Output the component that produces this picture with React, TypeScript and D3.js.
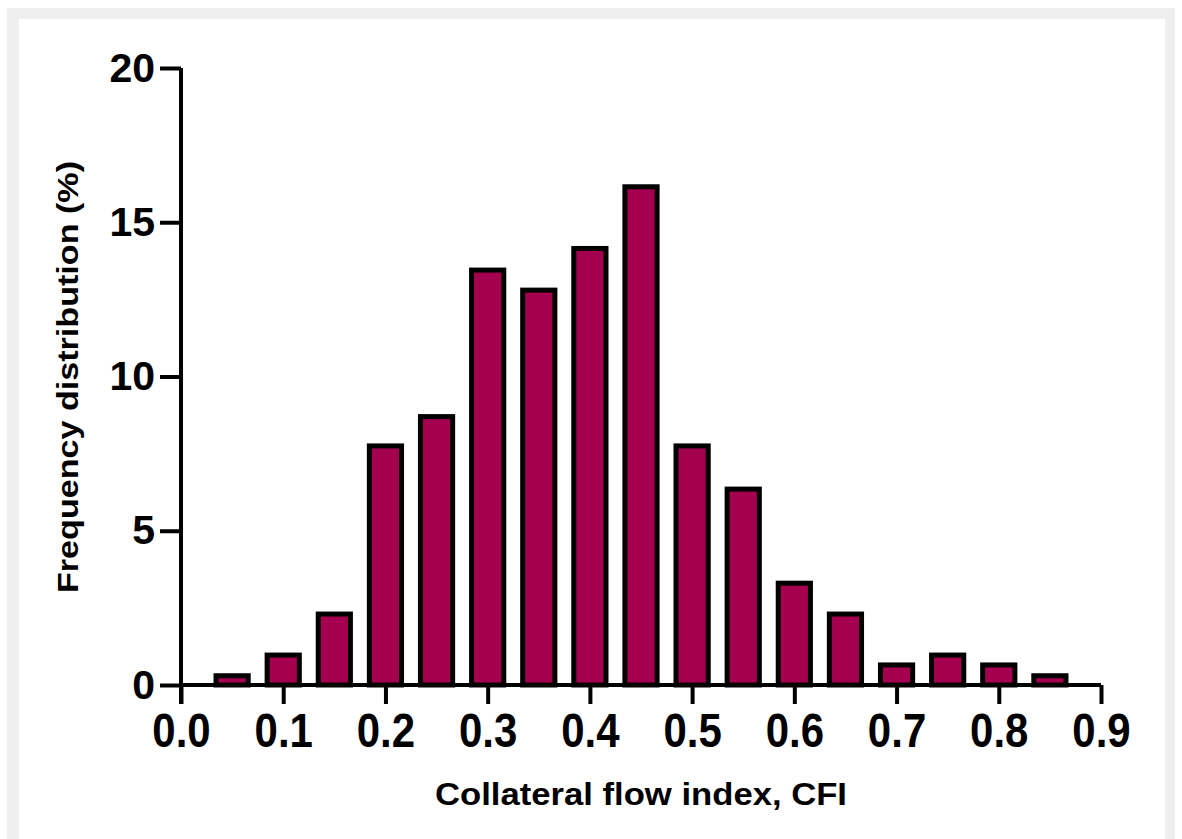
import React, { useEffect, useRef } from "react";
import * as d3 from "d3";

// bin centres (CFI) and frequency (%)
const binCenters = [0.05, 0.1, 0.15, 0.2, 0.25, 0.3, 0.35, 0.4, 0.45, 0.5, 0.55, 0.6, 0.65, 0.7, 0.75, 0.8, 0.85];
const frequency = [0.3, 0.97, 2.3, 7.75, 8.7, 13.45, 12.8, 14.15, 16.15, 7.75, 6.35, 3.3, 2.3, 0.65, 0.97, 0.65, 0.3];
const xTicks = [0, 0.1, 0.2, 0.3, 0.4, 0.5, 0.6, 0.7, 0.8, 0.9];
const yTicks = [0, 5, 10, 15, 20];

const xTitle = "Collateral flow index, CFI";
const yTitle = "Frequency distribution (%)";

const W = 1182;
const H = 839;
const font = "'Liberation Sans', Arial, Helvetica, sans-serif";

const App: React.FC = () => {
  const ref = useRef<SVGSVGElement>(null);

  useEffect(() => {
    const svg = d3.select(ref.current);
    svg.selectAll("*").remove();

    const margin = { left: 181, right: 81, top: 68, bottom: 154 };

    // frame
    svg.append("rect").attr("x", 7).attr("y", 8).attr("width", 1168).attr("height", H).attr("fill", "#efefef");
    svg.append("rect").attr("x", 19).attr("y", 19).attr("width", 1146).attr("height", H).attr("fill", "#ffffff");

    const x = d3.scaleLinear().domain([0, 0.9]).range([margin.left, W - margin.right]);
    const y = d3.scaleLinear().domain([0, 20]).range([H - margin.bottom, margin.top]);

    const barW = (x(0.05) - x(0)) * 0.63;

    svg
      .append("g")
      .selectAll("rect")
      .data(binCenters)
      .join("rect")
      .attr("x", (d) => x(d) - barW / 2)
      .attr("y", (d, i) => y(frequency[i]))
      .attr("width", barW)
      .attr("height", (d, i) => y(0) - y(frequency[i]))
      .attr("fill", "#a50050")
      .attr("stroke", "#000")
      .attr("stroke-width", 5);

    // x axis
    const stretch = 1.15; // labels in the figure are a bit taller than wide
    const xAxis = svg
      .append("g")
      .attr("transform", `translate(0,${y(0)})`)
      .call(d3.axisBottom(x).tickValues(xTicks).tickSize(19).tickFormat(d3.format(".1f")));
    xAxis.select(".domain").attr("stroke-width", 4).attr("d", `M${x(0)},0H${x(0.9)}`);
    xAxis.selectAll(".tick line").attr("stroke-width", 4);
    xAxis
      .selectAll(".tick text")
      .attr("y", 28 / stretch)
      .attr("transform", `scale(1,${stretch})`)
      .attr("font-family", font)
      .attr("font-weight", "bold")
      .attr("font-size", 42)
      .attr("fill", "#000");

    // y axis
    const yAxis = svg
      .append("g")
      .attr("transform", `translate(${x(0)},0)`)
      .call(d3.axisLeft(y).tickValues(yTicks).tickSize(21).tickPadding(5));
    yAxis.select(".domain").attr("stroke-width", 4).attr("d", `M0,${y(20)}V${y(0) + 19}`);
    yAxis.selectAll(".tick line").attr("stroke-width", 4);
    yAxis
      .selectAll(".tick text")
      .attr("font-family", font)
      .attr("font-weight", "bold")
      .attr("font-size", 41)
      .attr("fill", "#000");

    svg
      .append("text")
      .attr("x", 641)
      .attr("y", 805)
      .attr("text-anchor", "middle")
      .attr("font-family", font)
      .attr("font-weight", "bold")
      .attr("font-size", 32)
      .attr("textLength", 412)
      .attr("lengthAdjust", "spacingAndGlyphs")
      .text(xTitle);

    svg
      .append("text")
      .attr("transform", `translate(78,${377}) rotate(-90)`)
      .attr("text-anchor", "middle")
      .attr("font-family", font)
      .attr("font-weight", "bold")
      .attr("font-size", 30)
      .attr("textLength", 432)
      .attr("lengthAdjust", "spacingAndGlyphs")
      .text(yTitle);
  }, []);

  return (
    <svg
      ref={ref}
      width={W}
      height={H}
      style={{ position: "absolute", left: 0, top: 0, display: "block" }}
    />
  );
};

export default App;
